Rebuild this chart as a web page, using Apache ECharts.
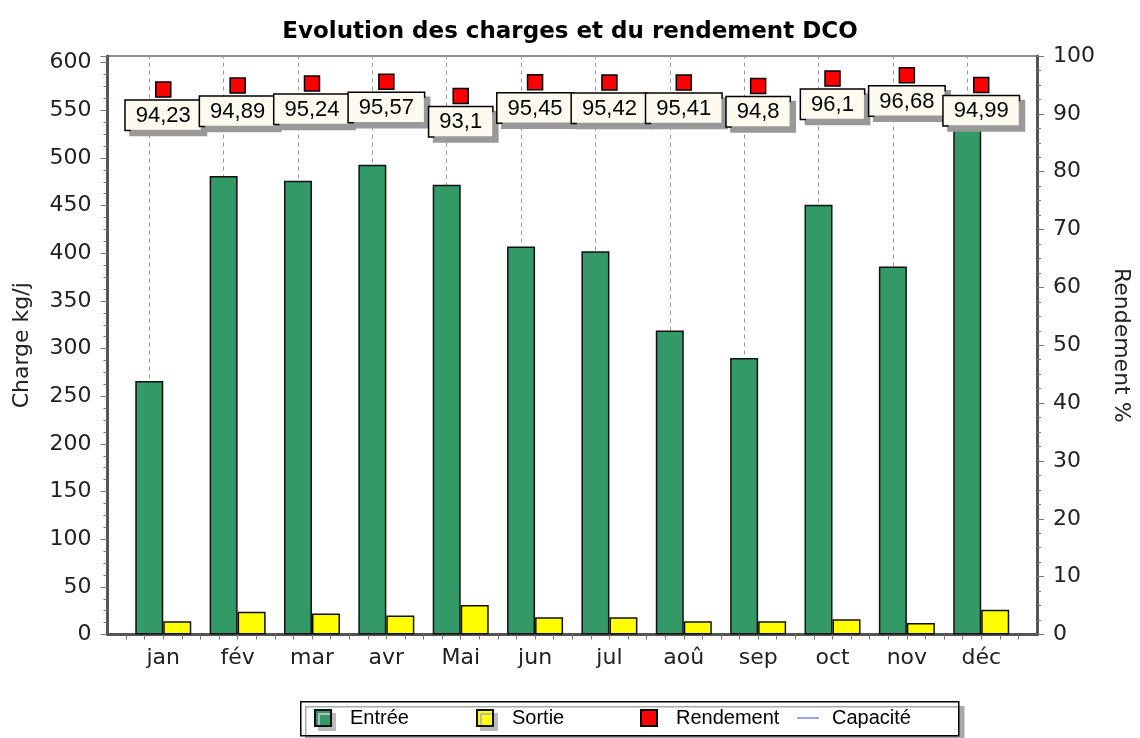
<!DOCTYPE html>
<html>
<head>
<meta charset="utf-8">
<title>Evolution des charges et du rendement DCO</title>
<script src="https://cdn.jsdelivr.net/npm/echarts@6.0.0/dist/echarts.min.js"></script>
<style>
  html, body { margin: 0; padding: 0; background: #fff; }
  #chart { width: 1140px; height: 738px; }
</style>
</head>
<body>
<div id="chart"></div>
<script>
// données
var months = ['jan', 'fév', 'mar', 'avr', 'Mai', 'jun', 'jul', 'aoû', 'sep', 'oct', 'nov', 'déc']
var entree = [266, 481, 476, 493, 472, 407, 402, 319, 290, 451, 386, 545]
var sortie = [14, 24, 22, 20, 31, 18, 18, 14, 14, 16, 12, 26]
var rendement = [94.23, 94.89, 95.24, 95.57, 93.1, 95.45, 95.42, 95.41, 94.8, 96.1, 96.68, 94.99]
var capacite = []

var axisFont = 'DejaVu Sans'
var boxFont = 'Liberation Sans'

var chart = echarts.init(document.getElementById('chart'), null, { renderer: 'canvas' })

function monthLabel(v) {
  var r = Math.round(v)
  if (Math.abs(v - r) > 1e-6) return ''
  return months[r] || ''
}

var iconShadow = { shadowColor: '#bbb', shadowBlur: 0, shadowOffsetX: 4, shadowOffsetY: 4 }

// une légende par entrée, pour garder les colonnes fixes du cadre
function legendItem(name, left, opts) {
  opts = opts || {}
  return {
    left: left,
    top: 708,
    padding: 0,
    itemWidth: opts.w || 16,
    itemHeight: opts.h || 16,
    selectedMode: false,
    textStyle: {
      fontFamily: boxFont,
      fontSize: 20,
      color: '#000',
      padding: [0, 0, 0, opts.pad == null ? 14 : opts.pad]
    },
    data: [Object.assign({ name: name, icon: 'rect' }, opts.item || {})]
  }
}

chart.setOption({
  animation: false,
  backgroundColor: '#fff',
  title: {
    text: 'Evolution des charges et du rendement DCO',
    left: 'center',
    top: 21,
    padding: 0,
    textStyle: {
      fontFamily: axisFont,
      fontWeight: 'bold',
      fontSize: 23,
      color: '#000'
    }
  },
  graphic: [
    {
      type: 'rect',
      left: 300,
      top: 701,
      z: 0,
      shape: { width: 658, height: 34 },
      style: {
        fill: '#fff',
        stroke: '#000',
        lineWidth: 1.5,
        shadowColor: '#aaa',
        shadowBlur: 0,
        shadowOffsetX: 5,
        shadowOffsetY: 5
      }
    }
  ],
  legend: [
    legendItem('Entrée', 314, { item: { itemStyle: iconShadow } }),
    legendItem('Sortie', 476, { item: { itemStyle: iconShadow } }),
    legendItem('Rendement', 640),
    legendItem('Capacité', 797, { w: 22, h: 2, pad: 8 })
  ],
  grid: {
    left: 107.5,
    right: 96,
    top: 56,
    bottom: 103.5,
    containLabel: false,
    show: true,
    borderColor: '#222',
    borderWidth: 1
  },
  xAxis: {
    type: 'value',
    min: -0.75,
    max: 11.75,
    interval: 0.25,
    axisLine: { show: true, onZero: false, lineStyle: { color: '#555', width: 3 } },
    axisTick: { show: true, length: 5, lineStyle: { color: '#777', width: 1 } },
    axisLabel: {
      margin: 13,
      fontFamily: axisFont,
      fontSize: 22,
      color: '#222',
      showMinLabel: false,
      showMaxLabel: false,
      formatter: monthLabel
    },
    splitLine: { show: false }
  },
  yAxis: [
    {
      type: 'value',
      position: 'left',
      min: 0,
      max: 607,
      interval: 50,
      name: 'Charge kg/j',
      nameLocation: 'middle',
      nameGap: 74,
      nameTextStyle: { fontFamily: axisFont, fontSize: 22, color: '#222' },
      axisLine: { show: true, onZero: false, lineStyle: { color: '#555', width: 3 } },
      axisTick: { show: true, length: 7, lineStyle: { color: '#777' } },
      minorTick: { show: true, splitNumber: 4, length: 4, lineStyle: { color: '#777' } },
      axisLabel: {
        margin: 16,
        fontFamily: axisFont,
        fontSize: 22,
        color: '#222',
        formatter: function (v) { return v % 50 === 0 ? String(v) : '' }
      },
      splitLine: { show: false }
    },
    {
      type: 'value',
      position: 'right',
      min: 0,
      max: 100,
      interval: 10,
      name: 'Rendement %',
      nameLocation: 'middle',
      nameGap: 73,
      nameRotate: -90,
      nameTextStyle: { fontFamily: axisFont, fontSize: 22, color: '#222' },
      axisLine: { show: true, onZero: false, lineStyle: { color: '#555', width: 3 } },
      axisTick: { show: true, length: 7, lineStyle: { color: '#777' } },
      minorTick: { show: true, splitNumber: 4, length: 4, lineStyle: { color: '#777' } },
      axisLabel: {
        margin: 16,
        fontFamily: axisFont,
        fontSize: 22,
        color: '#222'
      },
      splitLine: { show: false }
    }
  ],
  series: [
    {
      name: 'Entrée',
      type: 'bar',
      barWidth: 28,
      barGap: '0%',
      itemStyle: { color: '#339966', borderColor: '#111', borderWidth: 1.5 },
      data: entree.map(function (v, i) { return [i, v] }),
      markLine: {
        silent: true,
        z: 1,
        symbol: 'none',
        label: { show: false },
        lineStyle: { type: [4, 4], color: '#999', width: 1 },
        data: months.map(function (m, i) { return { xAxis: i } })
      }
    },
    {
      name: 'Sortie',
      type: 'bar',
      barWidth: 28,
      barGap: '0%',
      itemStyle: { color: '#ffff00', borderColor: '#111', borderWidth: 1.5 },
      data: sortie.map(function (v, i) { return [i, v] })
    },
    {
      name: 'Rendement',
      type: 'scatter',
      yAxisIndex: 1,
      symbol: 'rect',
      symbolSize: 15,
      z: 5,
      itemStyle: { color: '#ff0000', borderColor: '#000', borderWidth: 1.5, opacity: 1 },
      label: {
        show: true,
        position: 'bottom',
        distance: 3,
        fontFamily: boxFont,
        fontSize: 22,
        lineHeight: 22,
        color: '#000',
        backgroundColor: '#fdfaf0',
        borderColor: '#000',
        borderWidth: 1.5,
        padding: [4, 10, 3, 10],
        shadowColor: '#999',
        shadowBlur: 0,
        shadowOffsetX: 5,
        shadowOffsetY: 5,
        formatter: function (p) { return String(p.value[1]).replace('.', ',') }
      },
      data: rendement.map(function (v, i) { return [i, v] })
    },
    {
      name: 'Capacité',
      type: 'line',
      symbol: 'none',
      showSymbol: false,
      itemStyle: { color: '#a0a0ff' },
      lineStyle: { color: '#a0a0ff', width: 1.5 },
      data: capacite
    }
  ]
})
</script>
</body>
</html>
